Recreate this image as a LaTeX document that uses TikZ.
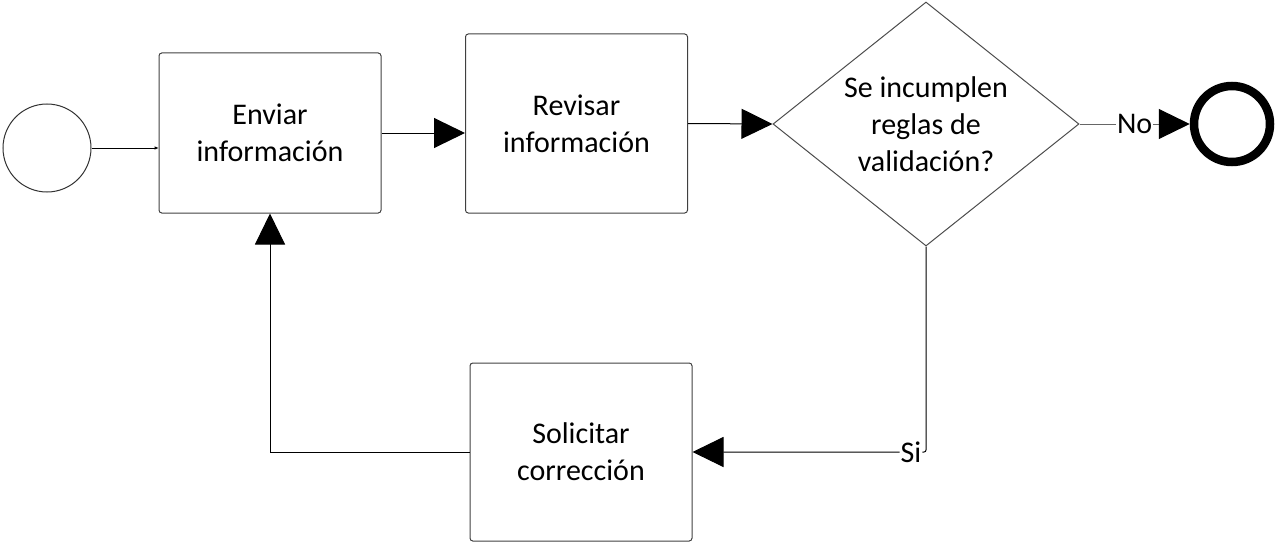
\documentclass[tikz,border=0pt]{standalone}
\usepackage{fontspec}
\setmainfont{Carlito}
\usetikzlibrary{shapes.geometric,arrows.meta}
\begin{document}
\begin{tikzpicture}[
    x=1pt, y=-1pt, line width=1pt,
    every node/.style={font=\fontsize{30}{37}\selectfont},
    task/.style={rectangle, draw=black!75, rounded corners=1mm, minimum width=222pt,
        align=center, inner sep=0pt},
    gateway/.style={diamond, draw=black!70, minimum width=306pt, minimum height=244pt,
        align=center, inner sep=-25pt},
    startevent/.style={circle, draw=black!80, minimum size=88pt, inner sep=0pt},
    endevent/.style={circle, draw, line width=8.5pt, minimum size=76pt, inner sep=0pt},
    flow/.style={-{Triangle[length=31pt,width=30pt,color=black]}},
    smallflow/.style={-{Triangle[length=4pt,width=3pt]}},
    tag/.style={fill=white, inner sep=1pt}
]
\useasboundingbox (0,0) rectangle (1280,543);

\node (Start) [startevent] at (47,148) {};
\node (Enviar) [task, minimum height=160pt] at (270,133) {Enviar\\información};
\node (Revisar) [task, minimum height=179pt] at (576.5,123.5) {Revisar\\información};
\node (Decision) [gateway] at (926,124) {Se incumplen\\reglas de\\validación?};
\node (End) [endevent] at (1232,124) {};
\node (Solicitar) [task, minimum height=178pt] at (581,452) {Solicitar\\corrección};

\draw [smallflow] (Start.east) -- (Enviar.west |- Start);
\draw [flow] (Enviar.east) -- (Revisar.west |- Enviar.east);
\draw [flow] (Revisar.east) -- (Decision.west);
\draw [flow, black!60] (Decision.east) -- node [tag, text=black] {No} (End.west);
\draw [flow, rounded corners=2pt] (Decision.south) |- node [tag, pos=0.5, xshift=-15pt] {Si} (Solicitar.east);
\draw [flow] (Solicitar.west) -| (Enviar.south);

\end{tikzpicture}
\end{document}
